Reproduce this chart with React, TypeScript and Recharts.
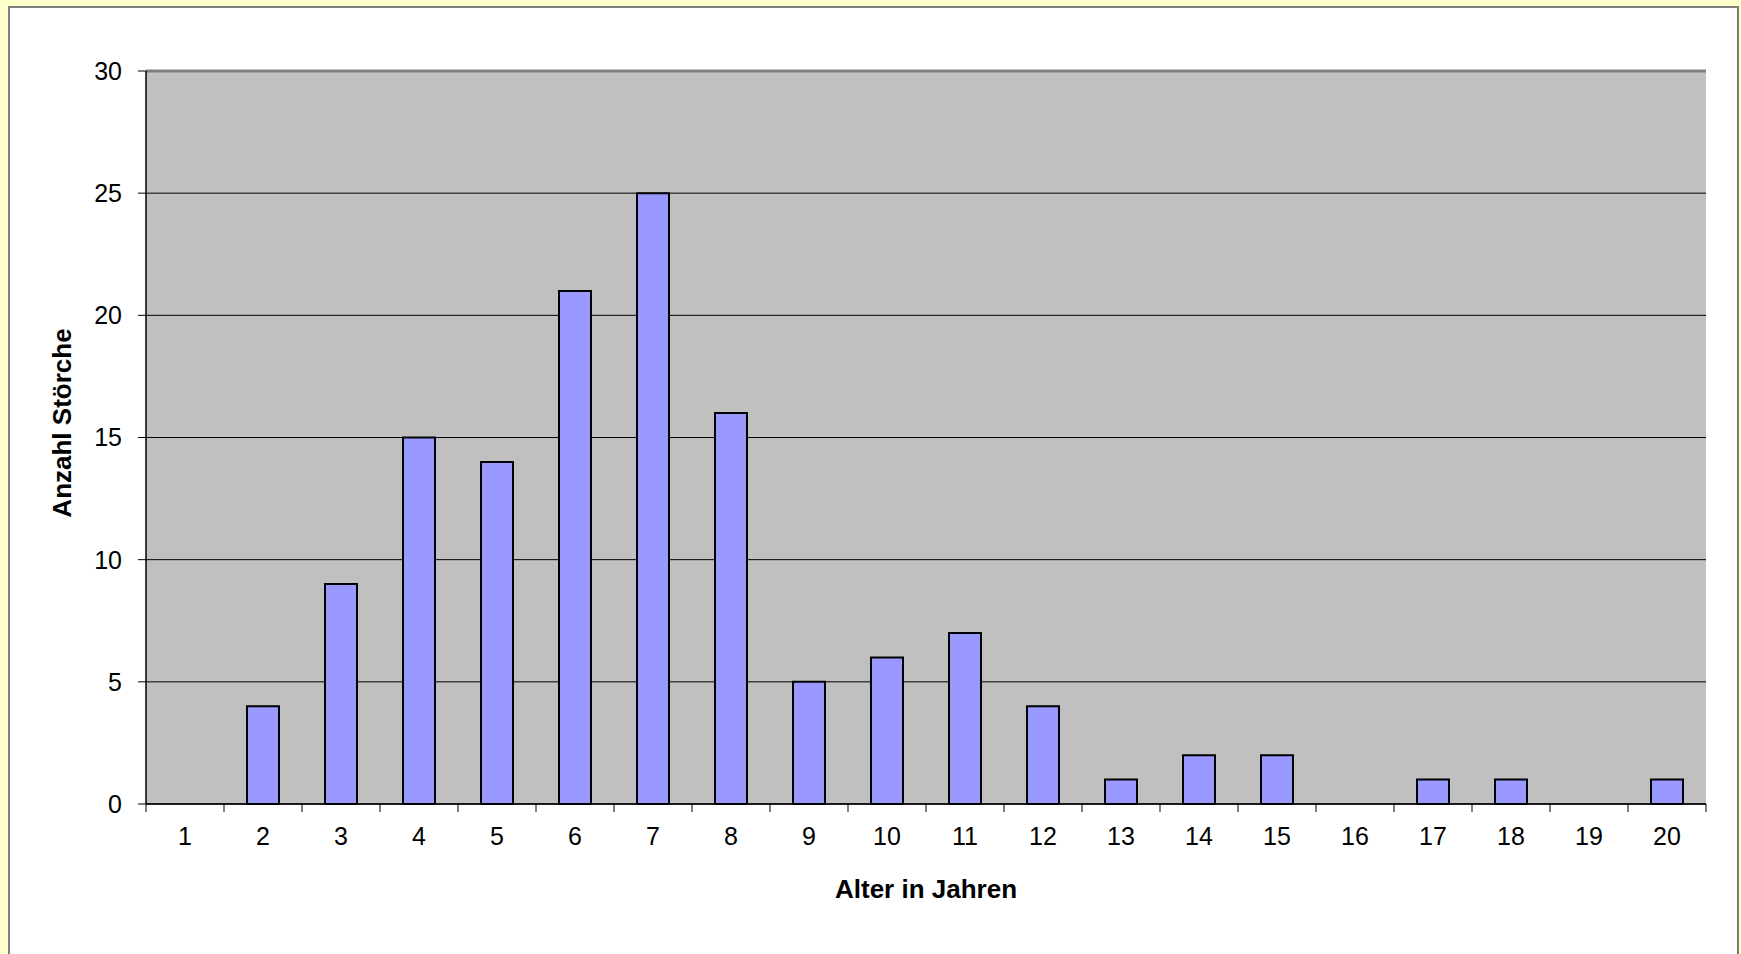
import React from "react";
import {
  BarChart,
  Bar,
  XAxis,
  YAxis,
  CartesianGrid,
  ReferenceLine,
} from "recharts";

const ages = ["1", "2", "3", "4", "5", "6", "7", "8", "9", "10", "11", "12", "13", "14", "15", "16", "17", "18", "19", "20"];
const storkCounts = [0, 4, 9, 15, 14, 21, 25, 16, 5, 6, 7, 4, 1, 2, 2, 0, 1, 1, 0, 1];
const yTicks = [0, 5, 10, 15, 20, 25, 30];

const xTitle = "Alter in Jahren";
const yTitle = "Anzahl Störche";

const data = ages.map((age, i) => ({ age, count: storkCounts[i] }));

const FONT = "'Liberation Sans', Arial, sans-serif";
const TICK_SIZE = 8;
const TICK_MARGIN = 15;

// Excel-style category tick: marks sit between categories, label in the middle
function AgeTick(props: any) {
  const { x, y, payload, index, visibleTicksCount } = props;
  const half = payload.offset || 0;
  const axisY = y - TICK_SIZE - TICK_MARGIN;
  const isLast = index === visibleTicksCount - 1;
  return (
    <g>
      <line x1={x - half} x2={x - half} y1={axisY} y2={axisY + TICK_SIZE} stroke="#000" strokeWidth={1} />
      {isLast && (
        <line x1={x + half} x2={x + half} y1={axisY} y2={axisY + TICK_SIZE} stroke="#000" strokeWidth={1} />
      )}
      <text x={x} y={y} dy="0.71em" textAnchor="middle" fontFamily={FONT} fontSize={25} fill="#000">
        {payload.value}
      </text>
    </g>
  );
}

// X axis title, centred under the plot area
function XTitle({ viewBox }: any) {
  const cx = viewBox.x + viewBox.width / 2;
  return (
    <text x={cx} y={898} textAnchor="middle" fontFamily={FONT} fontSize={26} fontWeight="bold" fill="#000">
      {xTitle}
    </text>
  );
}

function YTitle() {
  return (
    <text
      x={62}
      y={423}
      transform="rotate(-90, 62, 423)"
      textAnchor="middle"
      dominantBaseline="central"
      fontFamily={FONT}
      fontSize={26}
      fontWeight="bold"
      fill="#000"
    >
      {yTitle}
    </text>
  );
}

export default function App() {
  return (
    <div style={{ position: "fixed", left: 0, top: 0, width: 1741, height: 954, background: "#FFFFCC", overflow: "hidden" }}>
      <div
        style={{
          position: "absolute",
          left: 8,
          top: 6,
          width: 1727,
          height: 960,
          background: "#FFFFFF",
          borderLeft: "2px solid #808080",
          borderTop: "2px solid #808080",
          borderRight: "2px solid #7a7a66",
        }}
      />
      <div style={{ position: "absolute", left: 0, top: 0 }}>
        <BarChart
          width={1741}
          height={954}
          data={data}
          margin={{ top: 71, right: 35, bottom: 0, left: 0 }}
          barSize={32}
        >
          <CartesianGrid fill="#C0C0C0" stroke="#000" strokeWidth={1} vertical={false} />
          <XAxis
            dataKey="age"
            height={150}
            axisLine={{ stroke: "#000", strokeWidth: 1.5 }}
            tickLine={false}
            tickSize={TICK_SIZE}
            tickMargin={TICK_MARGIN}
            tick={<AgeTick />}
            interval={0}
            label={<XTitle />}
          />
          <YAxis
            width={146}
            domain={[0, 30]}
            ticks={yTicks}
            axisLine={{ stroke: "#000", strokeWidth: 1.5 }}
            tickLine={{ stroke: "#000", strokeWidth: 1 }}
            tickSize={8}
            tickMargin={16}
            tick={{ fill: "#000", fontSize: 25, fontFamily: FONT }}
            label={<YTitle />}
          />
          <YAxis
            yAxisId="frame"
            orientation="right"
            width={0}
            domain={[0, 30]}
            tick={false}
            tickLine={false}
            axisLine={{ stroke: "#808080", strokeWidth: 3 }}
          />
          <ReferenceLine y={30} stroke="#808080" strokeWidth={3} />
          <Bar dataKey="count" fill="#9999FF" stroke="#000" strokeWidth={2} isAnimationActive={false} />
        </BarChart>
      </div>
    </div>
  );
}
